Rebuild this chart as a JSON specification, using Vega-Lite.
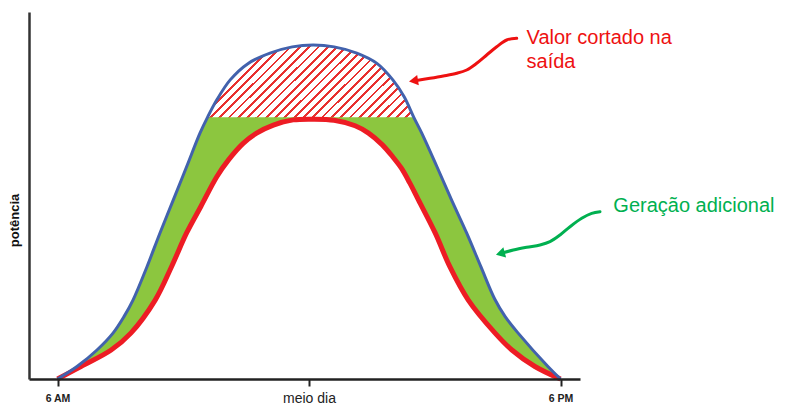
{
  "$schema": "https://vega.github.io/schema/vega-lite/v6.json",
  "width": 551,
  "height": 367,
  "autosize": {"type": "none"},
  "padding": {"left": 29, "top": 12, "right": 211, "bottom": 37},
  "background": "white",
  "config": {"view": {"stroke": null}, "font": "Liberation Sans"},
  "datasets": {
    "blue": [
      {"h": 6.0, "v": 0},
      {"h": 6.465, "v": 3.4},
      {"h": 6.942, "v": 7.9},
      {"h": 7.324, "v": 12.5},
      {"h": 7.586, "v": 17.0},
      {"h": 7.801, "v": 21.5},
      {"h": 8.135, "v": 30.6},
      {"h": 8.445, "v": 39.8},
      {"h": 8.763, "v": 48.8},
      {"h": 9.082, "v": 57.9},
      {"h": 9.399, "v": 67.0},
      {"h": 9.578, "v": 71.3},
      {"h": 9.798, "v": 76.0},
      {"h": 10.12, "v": 81.5},
      {"h": 10.55, "v": 86.0},
      {"h": 11.07, "v": 88.8},
      {"h": 11.6, "v": 90.5},
      {"h": 12.1, "v": 91.0},
      {"h": 12.6, "v": 90.5},
      {"h": 13.14, "v": 88.8},
      {"h": 13.62, "v": 86.0},
      {"h": 14.0, "v": 81.5},
      {"h": 14.27, "v": 76.9},
      {"h": 14.5, "v": 71.3},
      {"h": 14.69, "v": 67.0},
      {"h": 15.05, "v": 57.9},
      {"h": 15.4, "v": 48.8},
      {"h": 15.76, "v": 39.8},
      {"h": 16.1, "v": 30.6},
      {"h": 16.43, "v": 21.8},
      {"h": 16.68, "v": 17.0},
      {"h": 16.99, "v": 12.5},
      {"h": 17.7, "v": 3.4},
      {"h": 18.0, "v": 0}
    ],
    "red": [
      {"h": 6.0, "v": 0},
      {"h": 6.56, "v": 3.4},
      {"h": 7.28, "v": 7.9},
      {"h": 7.75, "v": 12.5},
      {"h": 8.33, "v": 21.5},
      {"h": 8.72, "v": 30.6},
      {"h": 9.08, "v": 39.8},
      {"h": 9.42, "v": 47.0},
      {"h": 9.8, "v": 55.1},
      {"h": 10.08, "v": 59.7},
      {"h": 10.43, "v": 64.2},
      {"h": 10.75, "v": 67.0},
      {"h": 11.15, "v": 69.2},
      {"h": 11.62, "v": 70.6},
      {"h": 12.1, "v": 70.8},
      {"h": 12.6, "v": 70.5},
      {"h": 13.1, "v": 69.0},
      {"h": 13.42, "v": 67.0},
      {"h": 13.75, "v": 63.8},
      {"h": 14.0, "v": 60.5},
      {"h": 14.2, "v": 57.5},
      {"h": 14.4, "v": 53.5},
      {"h": 14.61, "v": 48.8},
      {"h": 15.01, "v": 39.8},
      {"h": 15.36, "v": 30.6},
      {"h": 15.8, "v": 21.5},
      {"h": 16.44, "v": 12.5},
      {"h": 16.84, "v": 7.9},
      {"h": 17.39, "v": 3.4},
      {"h": 18.0, "v": 0}
    ],
    "arrows": [
      {"g": "corte", "i": 0, "h": 16.955, "v": 92.83},
      {"g": "corte", "i": 1, "h": 16.716, "v": 92.37},
      {"g": "corte", "i": 2, "h": 16.478, "v": 90.54},
      {"g": "corte", "i": 3, "h": 16.239, "v": 88.28},
      {"g": "corte", "i": 4, "h": 16.001, "v": 86.02},
      {"g": "corte", "i": 5, "h": 15.762, "v": 84.2},
      {"g": "corte", "i": 6, "h": 15.524, "v": 83.3},
      {"g": "corte", "i": 7, "h": 15.204, "v": 82.56},
      {"g": "corte", "i": 8, "h": 14.887, "v": 81.93},
      {"g": "corte", "i": 9, "h": 14.529, "v": 81.28},
      {"g": "geracao", "i": 0, "h": 18.942, "v": 45.59},
      {"g": "geracao", "i": 1, "h": 18.744, "v": 45.15},
      {"g": "geracao", "i": 2, "h": 18.506, "v": 43.79},
      {"g": "geracao", "i": 3, "h": 18.227, "v": 41.5},
      {"g": "geracao", "i": 4, "h": 17.988, "v": 39.24},
      {"g": "geracao", "i": 5, "h": 17.749, "v": 37.41},
      {"g": "geracao", "i": 6, "h": 17.511, "v": 36.51},
      {"g": "geracao", "i": 7, "h": 17.193, "v": 35.89},
      {"g": "geracao", "i": 8, "h": 16.874, "v": 35.15},
      {"g": "geracao", "i": 9, "h": 16.6, "v": 34.3}
    ],
    "heads": [
      {"g": "corte", "h": 14.493, "v": 81.25},
      {"g": "geracao", "h": 16.564, "v": 34.2}
    ],
    "notes": [
      {"g": "corte", "t": "Valor cortado na", "h": 17.19, "v": 91.28},
      {"g": "corte", "t": "saída", "h": 17.19, "v": 84.66},
      {"g": "geracao", "t": "Geração adicional", "h": 19.26, "v": 45.59}
    ]
  },
  "encoding": {
    "x": {
      "field": "h",
      "type": "quantitative",
      "scale": {"domain": [5.32, 18.465], "nice": false, "zero": false},
      "axis": {
        "values": [6, 12, 18],
        "labelExpr": "datum.value == 6 ? '6 AM' : datum.value == 12 ? 'meio dia' : '6 PM'",
        "title": null,
        "grid": false,
        "zindex": 1,
        "domainColor": "#222222",
        "domainWidth": 2.5,
        "tickColor": "#222222",
        "tickWidth": 2,
        "tickSize": 7,
        "labelFont": "Liberation Sans",
        "labelColor": "#222222",
        "labelFontSize": {"condition": {"test": "datum.value == 12", "value": 14}, "value": 10.5},
        "labelFontWeight": {"condition": {"test": "datum.value == 12", "value": "normal"}, "value": "bold"},
        "labelBaseline": "middle",
        "labelPadding": 12,
        "labelFlush": false,
        "labelOverlap": false
      }
    },
    "y": {
      "field": "v",
      "type": "quantitative",
      "scale": {"domain": [0, 100], "nice": false, "zero": false},
      "axis": {
        "title": "potência",
        "labels": false,
        "ticks": false,
        "grid": false,
        "zindex": 1,
        "domainColor": "#333333",
        "domainWidth": 2.5,
        "titleFont": "Liberation Sans",
        "titleFontWeight": "bold",
        "titleFontSize": 13,
        "titleColor": "#111111",
        "titleAngle": 270,
        "titleX": -14.5,
        "titleY": 208,
        "titleAlign": "center",
        "titleBaseline": "middle"
      }
    }
  },
  "layer": [
    {
      "data": {"name": "blue"},
      "mark": {"type": "area", "interpolate": "catmull-rom", "color": "#8cc63f"},
      "encoding": {"y2": {"datum": 0}}
    },
    {
      "data": {"name": "red"},
      "mark": {"type": "area", "interpolate": "catmull-rom", "color": "#ffffff"},
      "encoding": {"y2": {"datum": 0}}
    },
    {
      "data": {"name": "blue"},
      "transform": [{"filter": "datum.v >= 71.3"}],
      "mark": {
        "type": "area",
        "interpolate": "catmull-rom",
        "fill": {
          "gradient": "linear",
          "x1": 0, "y1": 0, "x2": 1.203, "y2": 0.424,
          "stops": [
            {"offset": 0, "color": "#e8302f"}, {"offset": 0.01, "color": "#e8302f"}, {"offset": 0.01, "color": "#ffffff"}, {"offset": 0.0333, "color": "#ffffff"},
            {"offset": 0.0333, "color": "#e8302f"}, {"offset": 0.0433, "color": "#e8302f"}, {"offset": 0.0433, "color": "#ffffff"}, {"offset": 0.0667, "color": "#ffffff"},
            {"offset": 0.0667, "color": "#e8302f"}, {"offset": 0.0767, "color": "#e8302f"}, {"offset": 0.0767, "color": "#ffffff"}, {"offset": 0.1, "color": "#ffffff"},
            {"offset": 0.1, "color": "#e8302f"}, {"offset": 0.11, "color": "#e8302f"}, {"offset": 0.11, "color": "#ffffff"}, {"offset": 0.1333, "color": "#ffffff"},
            {"offset": 0.1333, "color": "#e8302f"}, {"offset": 0.1433, "color": "#e8302f"}, {"offset": 0.1433, "color": "#ffffff"}, {"offset": 0.1667, "color": "#ffffff"},
            {"offset": 0.1667, "color": "#e8302f"}, {"offset": 0.1767, "color": "#e8302f"}, {"offset": 0.1767, "color": "#ffffff"}, {"offset": 0.2, "color": "#ffffff"},
            {"offset": 0.2, "color": "#e8302f"}, {"offset": 0.21, "color": "#e8302f"}, {"offset": 0.21, "color": "#ffffff"}, {"offset": 0.2333, "color": "#ffffff"},
            {"offset": 0.2333, "color": "#e8302f"}, {"offset": 0.2433, "color": "#e8302f"}, {"offset": 0.2433, "color": "#ffffff"}, {"offset": 0.2667, "color": "#ffffff"},
            {"offset": 0.2667, "color": "#e8302f"}, {"offset": 0.2767, "color": "#e8302f"}, {"offset": 0.2767, "color": "#ffffff"}, {"offset": 0.3, "color": "#ffffff"},
            {"offset": 0.3, "color": "#e8302f"}, {"offset": 0.31, "color": "#e8302f"}, {"offset": 0.31, "color": "#ffffff"}, {"offset": 0.3333, "color": "#ffffff"},
            {"offset": 0.3333, "color": "#e8302f"}, {"offset": 0.3433, "color": "#e8302f"}, {"offset": 0.3433, "color": "#ffffff"}, {"offset": 0.3667, "color": "#ffffff"},
            {"offset": 0.3667, "color": "#e8302f"}, {"offset": 0.3767, "color": "#e8302f"}, {"offset": 0.3767, "color": "#ffffff"}, {"offset": 0.4, "color": "#ffffff"},
            {"offset": 0.4, "color": "#e8302f"}, {"offset": 0.41, "color": "#e8302f"}, {"offset": 0.41, "color": "#ffffff"}, {"offset": 0.4333, "color": "#ffffff"},
            {"offset": 0.4333, "color": "#e8302f"}, {"offset": 0.4433, "color": "#e8302f"}, {"offset": 0.4433, "color": "#ffffff"}, {"offset": 0.4667, "color": "#ffffff"},
            {"offset": 0.4667, "color": "#e8302f"}, {"offset": 0.4767, "color": "#e8302f"}, {"offset": 0.4767, "color": "#ffffff"}, {"offset": 0.5, "color": "#ffffff"},
            {"offset": 0.5, "color": "#e8302f"}, {"offset": 0.51, "color": "#e8302f"}, {"offset": 0.51, "color": "#ffffff"}, {"offset": 0.5333, "color": "#ffffff"},
            {"offset": 0.5333, "color": "#e8302f"}, {"offset": 0.5433, "color": "#e8302f"}, {"offset": 0.5433, "color": "#ffffff"}, {"offset": 0.5667, "color": "#ffffff"},
            {"offset": 0.5667, "color": "#e8302f"}, {"offset": 0.5767, "color": "#e8302f"}, {"offset": 0.5767, "color": "#ffffff"}, {"offset": 0.6, "color": "#ffffff"},
            {"offset": 0.6, "color": "#e8302f"}, {"offset": 0.61, "color": "#e8302f"}, {"offset": 0.61, "color": "#ffffff"}, {"offset": 0.6333, "color": "#ffffff"},
            {"offset": 0.6333, "color": "#e8302f"}, {"offset": 0.6433, "color": "#e8302f"}, {"offset": 0.6433, "color": "#ffffff"}, {"offset": 0.6667, "color": "#ffffff"},
            {"offset": 0.6667, "color": "#e8302f"}, {"offset": 0.6767, "color": "#e8302f"}, {"offset": 0.6767, "color": "#ffffff"}, {"offset": 0.7, "color": "#ffffff"},
            {"offset": 0.7, "color": "#e8302f"}, {"offset": 0.71, "color": "#e8302f"}, {"offset": 0.71, "color": "#ffffff"}, {"offset": 0.7333, "color": "#ffffff"},
            {"offset": 0.7333, "color": "#e8302f"}, {"offset": 0.7433, "color": "#e8302f"}, {"offset": 0.7433, "color": "#ffffff"}, {"offset": 0.7667, "color": "#ffffff"},
            {"offset": 0.7667, "color": "#e8302f"}, {"offset": 0.7767, "color": "#e8302f"}, {"offset": 0.7767, "color": "#ffffff"}, {"offset": 0.8, "color": "#ffffff"},
            {"offset": 0.8, "color": "#e8302f"}, {"offset": 0.81, "color": "#e8302f"}, {"offset": 0.81, "color": "#ffffff"}, {"offset": 0.8333, "color": "#ffffff"},
            {"offset": 0.8333, "color": "#e8302f"}, {"offset": 0.8433, "color": "#e8302f"}, {"offset": 0.8433, "color": "#ffffff"}, {"offset": 0.8667, "color": "#ffffff"},
            {"offset": 0.8667, "color": "#e8302f"}, {"offset": 0.8767, "color": "#e8302f"}, {"offset": 0.8767, "color": "#ffffff"}, {"offset": 0.9, "color": "#ffffff"},
            {"offset": 0.9, "color": "#e8302f"}, {"offset": 0.91, "color": "#e8302f"}, {"offset": 0.91, "color": "#ffffff"}, {"offset": 0.9333, "color": "#ffffff"},
            {"offset": 0.9333, "color": "#e8302f"}, {"offset": 0.9433, "color": "#e8302f"}, {"offset": 0.9433, "color": "#ffffff"}, {"offset": 0.9667, "color": "#ffffff"},
            {"offset": 0.9667, "color": "#e8302f"}, {"offset": 0.9767, "color": "#e8302f"}, {"offset": 0.9767, "color": "#ffffff"}, {"offset": 1, "color": "#ffffff"}
          ]
        }
      },
      "encoding": {"y2": {"datum": 71.3}}
    },
    {
      "data": {"name": "red"},
      "mark": {"type": "line", "interpolate": "catmull-rom", "color": "#ed1c24", "strokeWidth": 5}
    },
    {
      "data": {"name": "blue"},
      "mark": {"type": "line", "interpolate": "catmull-rom", "color": "#4262ad", "strokeWidth": 3}
    },
    {
      "data": {"name": "arrows"},
      "transform": [{"filter": "datum.g == 'corte'"}],
      "mark": {"type": "line", "interpolate": "catmull-rom", "color": "#ee1111", "strokeWidth": 3, "strokeCap": "round"},
      "encoding": {"order": {"field": "i", "type": "quantitative"}}
    },
    {
      "data": {"name": "arrows"},
      "transform": [{"filter": "datum.g == 'geracao'"}],
      "mark": {"type": "line", "interpolate": "catmull-rom", "color": "#00b050", "strokeWidth": 3, "strokeCap": "round"},
      "encoding": {"order": {"field": "i", "type": "quantitative"}}
    },
    {
      "data": {"name": "heads"},
      "transform": [{"filter": "datum.g == 'corte'"}],
      "mark": {"type": "point", "shape": "triangle-left", "filled": true, "size": 110, "angle": -9, "color": "#ee1111", "opacity": 1}
    },
    {
      "data": {"name": "heads"},
      "transform": [{"filter": "datum.g == 'geracao'"}],
      "mark": {"type": "point", "shape": "triangle-left", "filled": true, "size": 110, "angle": -15, "color": "#00b050", "opacity": 1}
    },
    {
      "data": {"name": "notes"},
      "transform": [{"filter": "datum.g == 'corte'"}],
      "mark": {"type": "text", "align": "left", "baseline": "alphabetic", "font": "Liberation Sans", "fontSize": 20, "color": "#ee1111"},
      "encoding": {"text": {"field": "t"}}
    },
    {
      "data": {"name": "notes"},
      "transform": [{"filter": "datum.g == 'geracao'"}],
      "mark": {"type": "text", "align": "left", "baseline": "alphabetic", "font": "Liberation Sans", "fontSize": 20, "color": "#00b050"},
      "encoding": {"text": {"field": "t"}}
    }
  ]
}
